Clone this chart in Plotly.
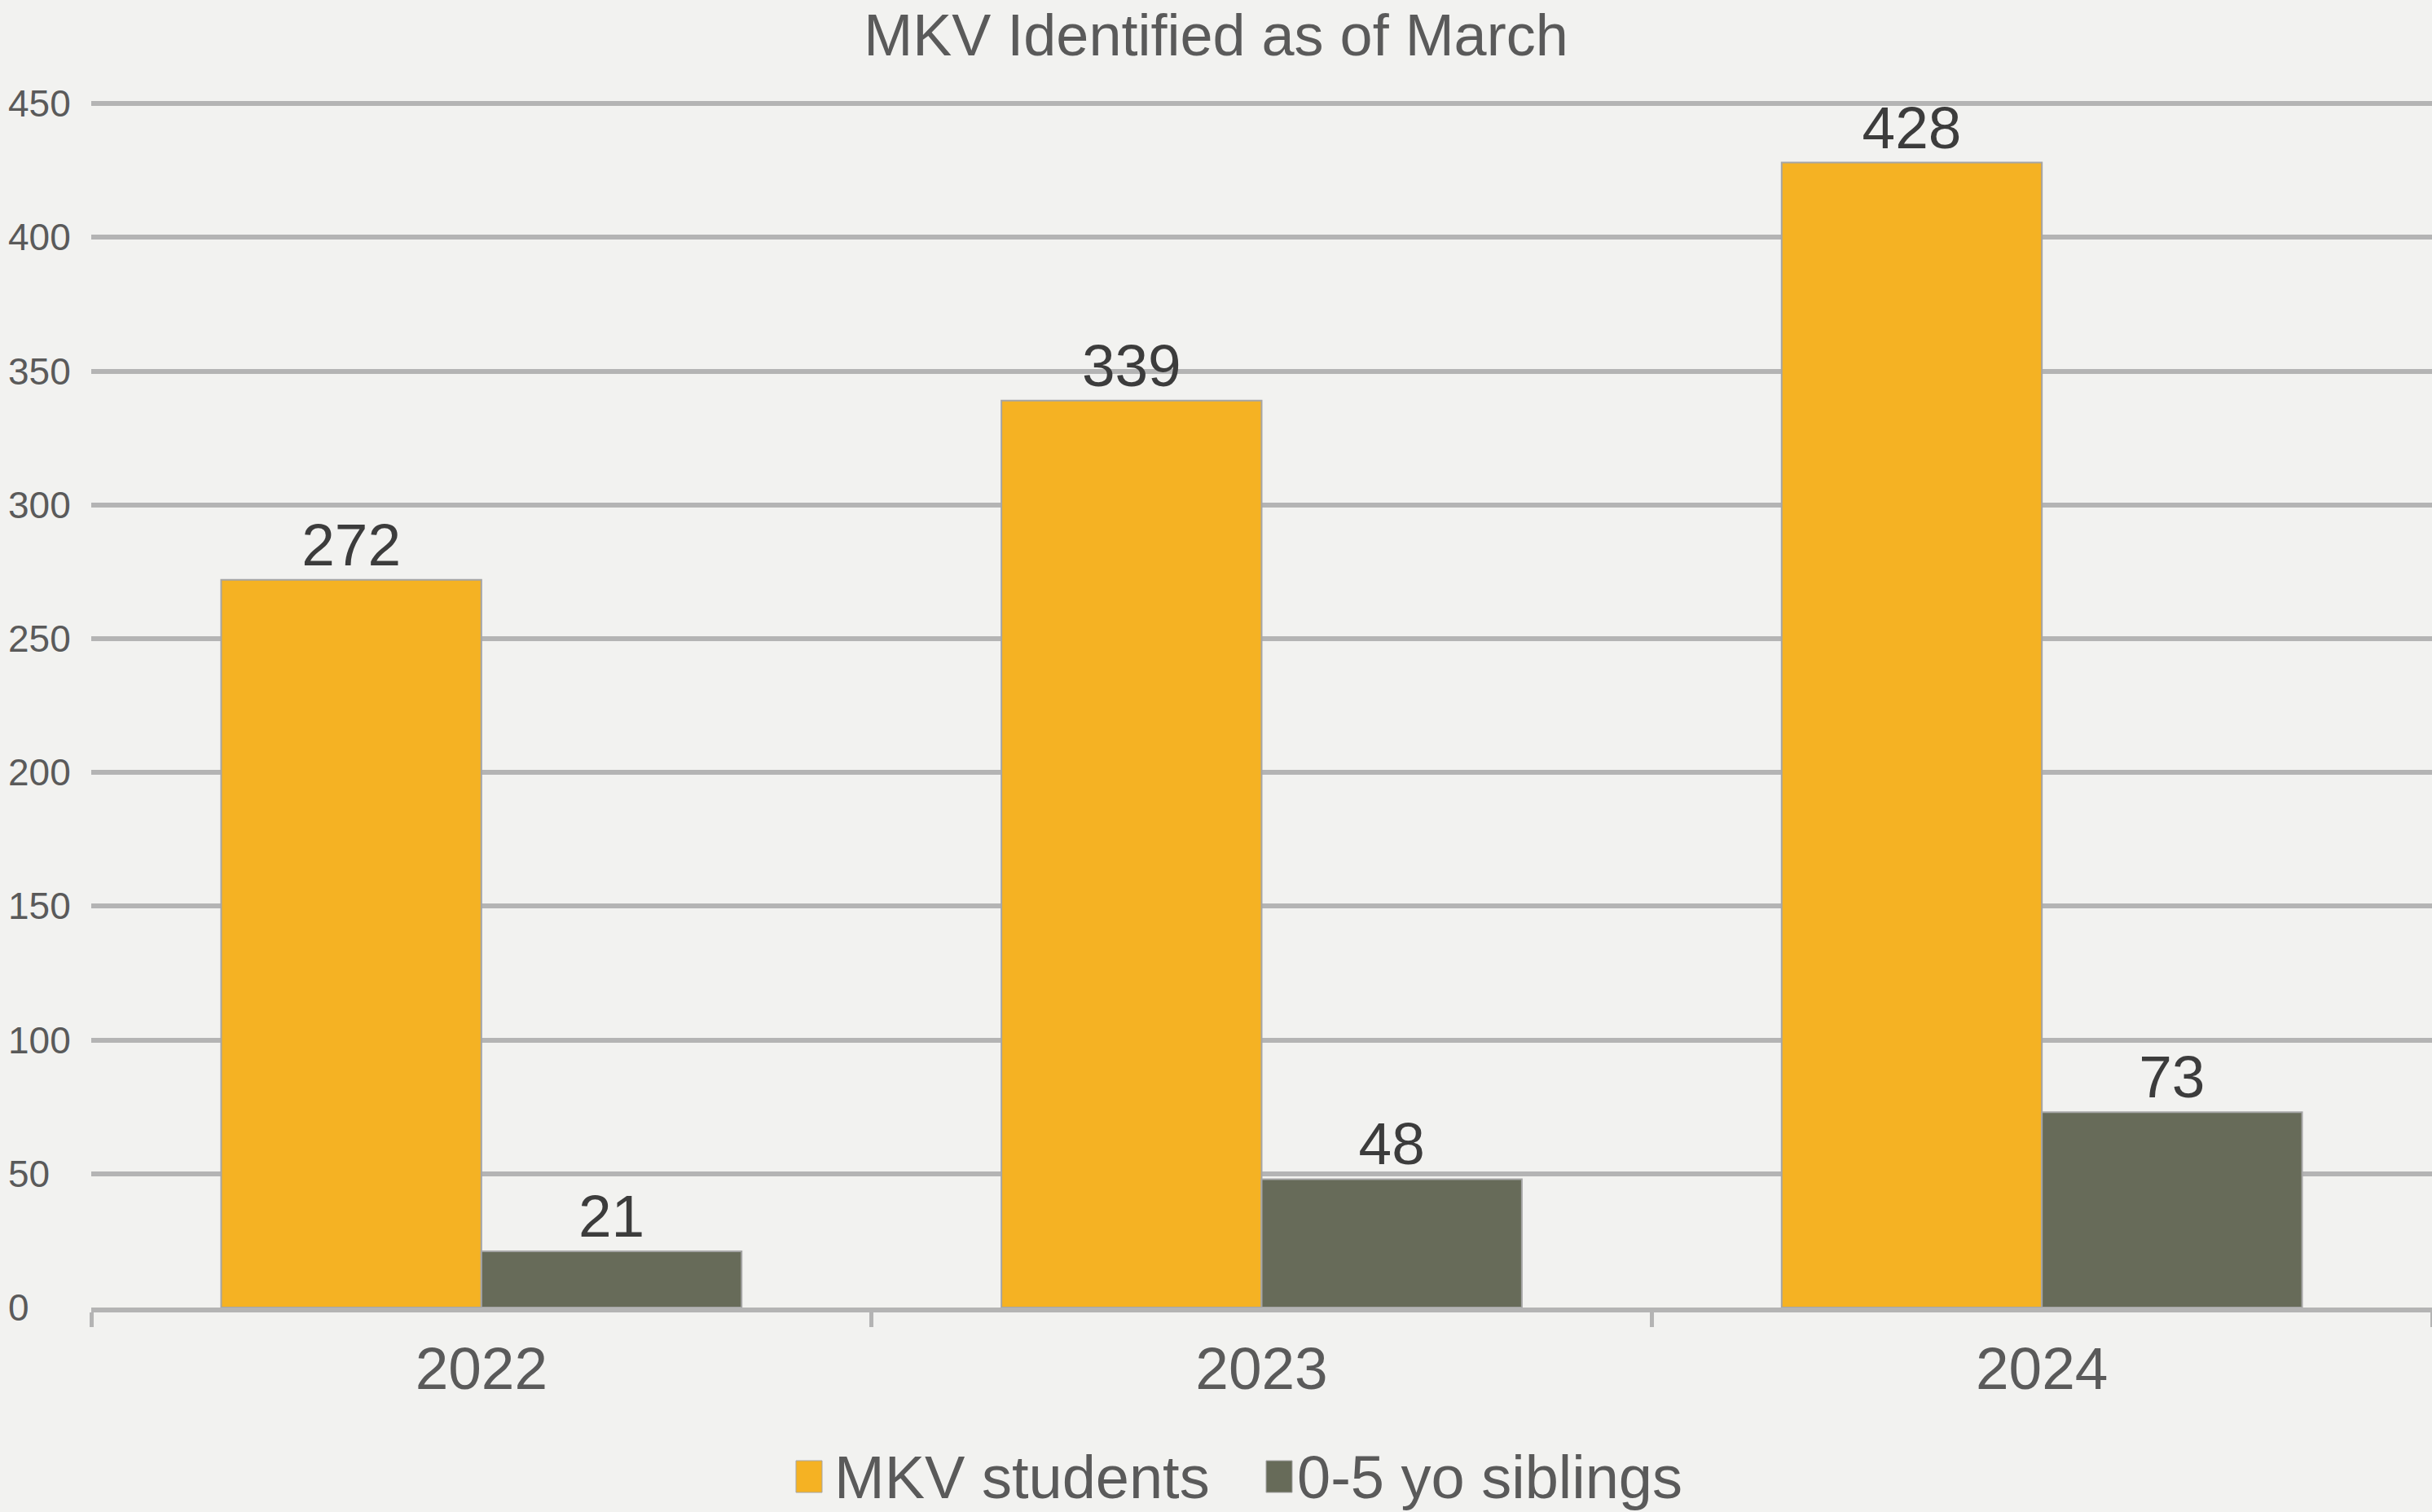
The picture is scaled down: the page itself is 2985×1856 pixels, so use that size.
import plotly.graph_objects as go

categories = ["2022", "2023", "2024"]
mkv_students = [272, 339, 428]
siblings = [21, 48, 73]
series_names = ["MKV students", "0-5 yo siblings"]
y_ticks = [0, 50, 100, 150, 200, 250, 300, 350, 400, 450]

ORANGE = "#F5B223"
OLIVE = "#676B59"
BG = "#F2F2F0"
GRID = "#B4B4B4"
TXT = "#5A5A5A"
FONT = "Liberation Sans, Arial, sans-serif"

W, H = 2985, 1856
L, R, T, B = 112, 0, 124, 251
PW = W - L - R
PH = H - T - B


def px_x(p):
    return (p - L) / PW


def px_y(p):
    return (H - B - p) / PH


fig = go.Figure()
for name, vals, col in [(series_names[0], mkv_students, ORANGE), (series_names[1], siblings, OLIVE)]:
    fig.add_trace(go.Bar(
        x=categories, y=vals, name=name,
        marker=dict(color=col, line=dict(color="#A5A5A5", width=2)),
        text=[str(v) for v in vals], textposition="outside",
        textfont=dict(family=FONT, size=73, color="#3C3C3C"),
        cliponaxis=False, showlegend=False,
    ))

fig.update_layout(
    width=W, height=H,
    margin=dict(l=L, r=R, t=T, b=B, autoexpand=False),
    paper_bgcolor=BG, plot_bgcolor=BG,
    barmode="group", bargap=0.333, bargroupgap=0,
    font=dict(family=FONT, color=TXT),
    title=dict(text="MKV Identified as of March", x=0.5, xanchor="center",
               y=1 - 43 / H, yanchor="middle",
               font=dict(family=FONT, size=72, color=TXT)),
    xaxis=dict(
        showgrid=False, showline=True, linecolor=GRID, linewidth=6,
        ticks="outside", tickson="boundaries", ticklen=18, tickwidth=5, tickcolor=GRID,
        tickfont=dict(family=FONT, size=73, color=TXT),
        ticklabelstandoff=6, automargin=False,
    ),
    yaxis=dict(
        range=[0, 451], tickvals=y_ticks, showticklabels=False,
        showgrid=True, gridcolor=GRID, gridwidth=6,
        zeroline=False, showline=False, ticks="",
        automargin=False,
    ),
)

# left-aligned y tick labels (as in the reference)
for v in y_ticks:
    fig.add_annotation(text=str(v), xref="paper", yref="y",
                       x=px_x(8), y=v, xanchor="left", yanchor="middle",
                       showarrow=False, font=dict(family=FONT, size=46, color=TXT))

# legend drawn manually (large square swatches like the reference)
legend_items = [
    (series_names[0], ORANGE, 977, 1009, 1022),
    (series_names[1], OLIVE, 1554, 1586, 1590),
]
for name, col, x0, x1, tx in legend_items:
    fig.add_shape(type="rect", xref="paper", yref="paper",
                  x0=px_x(x0), x1=px_x(x1), y0=px_y(1832), y1=px_y(1793),
                  fillcolor=col, line=dict(color="#A5A5A5", width=1))
    fig.add_annotation(text=name, xref="paper", yref="paper",
                       x=px_x(tx), y=px_y(1813), xanchor="left", yanchor="middle",
                       showarrow=False, font=dict(family=FONT, size=74, color=TXT))

fig.write_html(
    "out.html",
    config={"displayModeBar": False},
    post_script="document.body.style.margin='0';document.body.style.overflow='hidden';",
)
